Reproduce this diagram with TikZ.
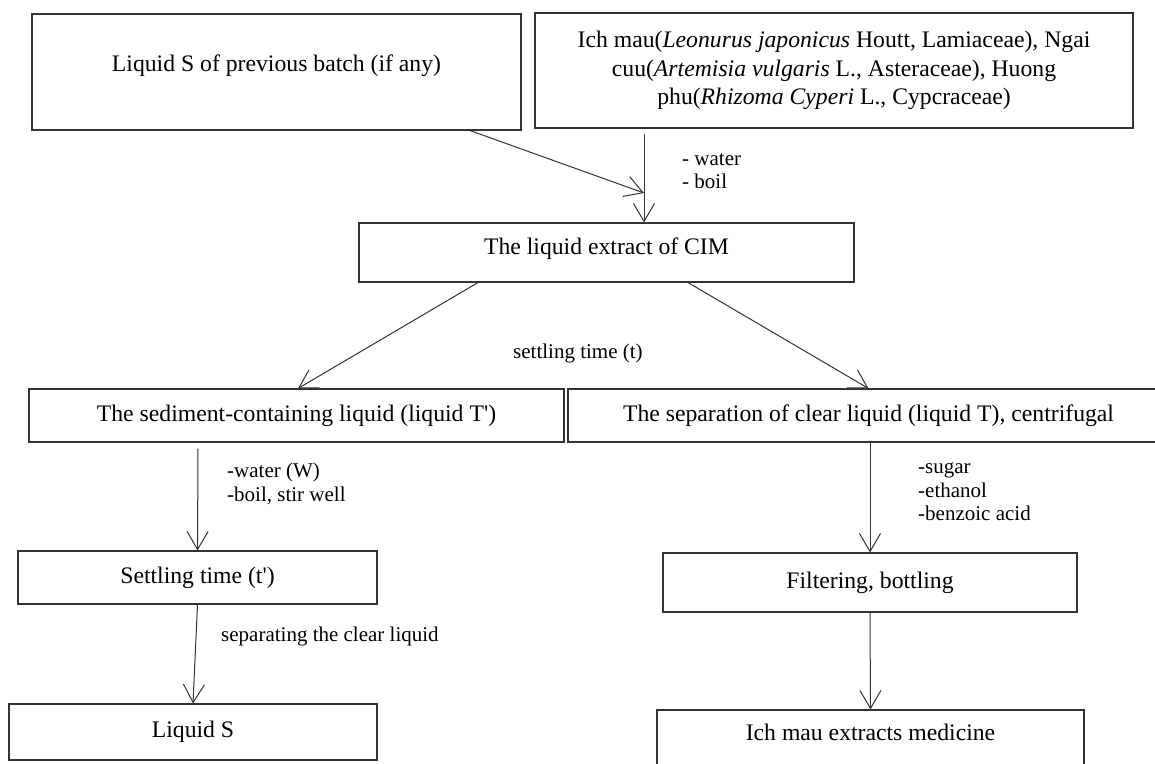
\documentclass[tikz,border=0pt]{standalone}
\usepackage{fontspec}
\setmainfont{Liberation Serif}
\usepackage{tikz}
\usetikzlibrary{arrows.meta,positioning,calc}
\newcommand{\boxfont}{\fontsize{23.7}{28.5}\selectfont}
\newcommand{\notefont}{\fontsize{21}{23.5}\selectfont}

\begin{document}
\begin{tikzpicture}[
      x=1pt, y=-1pt,
      box/.style={draw=black!80, line width=1.1pt, inner sep=0pt, align=center, font=\boxfont},
      arr/.style={-{Straight Barb[length=18pt,width=21pt]}, line width=1pt, draw=black!80},
      note/.style={inner sep=0pt, anchor=west, align=left, font=\notefont}
    ]
      \useasboundingbox (0,0) rectangle (1155,763);
      % top row
      \node[box, minimum width=489pt, minimum height=116pt, text height=16.6pt, text depth=17pt] (prev) at (276.5,72) {Liquid S of previous batch (if any)};
      \node[box, minimum width=598pt, minimum height=115pt] (herbs) at (834,70.5) {Ich mau(\textit{Leonurus japonicus} Houtt, Lamiaceae), Ngai\\cuu(\textit{Artemisia vulgaris} L., Asteraceae), Huong\\phu(\textit{Rhizoma Cyperi} L., Cypcraceae)};
      \node[box, minimum width=495pt, minimum height=59pt, text height=16.6pt, text depth=13pt] (cim) at (606.5,252.5) {The liquid extract of CIM};
      % two branches
      \node[box, minimum width=535pt, minimum height=53pt] (sediment) at (296.5,415.5) {The sediment-containing liquid (liquid T\textquotesingle)};
      \node[box, minimum width=601pt, minimum height=53pt] (clear) at (868.5,415.5) {The separation of clear liquid (liquid T), centrifugal};
      \node[box, minimum width=359pt, minimum height=53pt] (settle) at (197.5,577.5) {Settling time (t\textquotesingle)};
      \node[box, minimum width=368pt, minimum height=56pt] (liqS) at (193,732) {Liquid S};
      \node[box, minimum width=414pt, minimum height=59pt] (filter) at (870,582.5) {Filtering, bottling};
      \node[box, minimum width=427pt, minimum height=58pt, text height=16.6pt, text depth=13pt] (medicine) at (870.5,739) {Ich mau extracts medicine};
      % notes
      \node[note] (notewater) at (682,171) {- water\\- boil};
      \node[note] (notesettle) at (513,353) {settling time (t)};
      \node[note] (notestir) at (227,484) {-water (W)\\-boil, stir well};
      \node[note] (noteclear) at (221,636) {separating the clear liquid};
      \node[note] (notesugar) at (918,492) {-sugar\\-ethanol\\-benzoic acid};
      % arrows
      \coordinate (feed) at (644,193);
      \draw[arr] ([xshift=193.5pt]prev.south) -- (feed);
      \draw[arr] ($(feed |- herbs.south)+(0,5)$) -- (feed |- cim.north);
      \draw[arr] ([xshift=-128.5pt]cim.south) -- ([xshift=1.5pt]sediment.north);
      \draw[arr] ([xshift=81.5pt]cim.south) -- (clear.north);
      \draw[arr] ($(settle.north |- sediment.south)+(0.5,6)$) -- (settle.north);
      \draw[arr] (settle.south) -- (liqS.north);
      \draw[arr] (filter.north |- clear.south) -- (filter.north);
      \draw[arr] (filter.south) -- (medicine.north);
    \end{tikzpicture}
\end{document}
